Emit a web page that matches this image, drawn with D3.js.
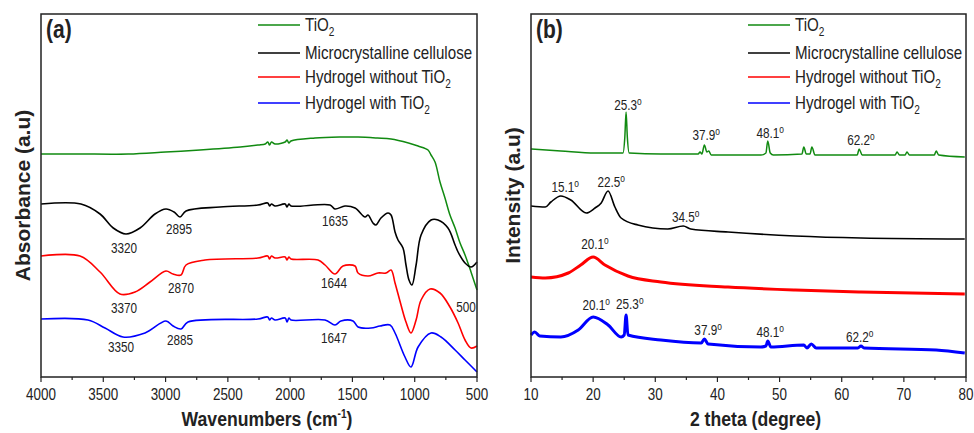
<!DOCTYPE html>
<html>
<head>
<meta charset="utf-8">
<script src="https://cdn.jsdelivr.net/npm/d3@7"></script>
<style>
  body { margin: 0; background: #fff; }
  svg text { font-family: "Liberation Sans", Arial, sans-serif; fill: #222; }
</style>
</head>
<body>
<svg id="chart" width="974" height="433"></svg>
<script>
// series names + colours, shared by both panels
var seriesNames = ['TiO', 'Microcrystalline cellulose', 'Hydrogel without TiO', 'Hydrogel with TiO'];
var seriesSub = ['2', '', '2', '2'];
var seriesColors = ['#118a11', '#000000', '#ff0000', '#0000ff'];

// (a) FTIR : [wavenumber, absorbance a.u. (stacked)]
var ftirTiO2 = [[4000,223],[3700,223],[3300,223],[3000,225],[2724,227],[2400,230],[2258,232],[2200,233],[2180,235],[2165,232],[2150,235],[2120,233],[2040,235],[2025,237],[2010,234],[1993,236],[1800,239],[1600,240],[1455,240],[1300,239],[1190,238],[1050,234],[973,231],[893,227],[869,222],[837,215],[797,195],[757,179],[717,162],[676,149],[636,134],[596,122],[548,105],[500,87]];
var ftirMCC = [[4000,173],[3679,173],[3526,163],[3420,149],[3318,143],[3205,149],[3085,163],[2997,168],[2932,165],[2884,160],[2836,166],[2563,170],[2258,172],[2180,174],[2165,171],[2150,173],[2120,171],[2040,173],[2025,170],[2010,173],[1993,171],[1680,172],[1640,168],[1560,171],[1479,169],[1399,160],[1375,162],[1335,154],[1311,152],[1271,159],[1214,164],[1190,162],[1158,145],[1134,137],[1094,129],[1070,112],[1046,97],[1022,92],[989,112],[949,142],[869,157],[813,157],[733,149],[676,132],[652,125],[596,114],[548,110],[500,115]];
var ftirHydro = [[4000,121],[3687,121],[3526,105],[3366,83],[3245,85],[3125,95],[2997,106],[2940,103],[2876,102],[2836,112],[2683,117],[2258,119],[2180,121],[2165,118],[2150,121],[2120,119],[2040,120],[2025,117],[2010,120],[1993,118],[1776,117],[1720,112],[1640,103],[1576,111],[1479,111],[1455,104],[1375,101],[1295,104],[1230,104],[1190,107],[1158,94],[1110,72],[1070,55],[1030,44],[989,57],[949,77],[877,88],[797,84],[717,70],[652,54],[596,37],[548,29],[500,31]];
var ftirHydroTiO2 = [[4000,58],[3623,57],[3486,49],[3342,40],[3165,44],[2997,56],[2940,51],[2876,48],[2820,55],[2258,58],[2180,60],[2165,57],[2150,59],[2120,57],[2040,59],[2025,55],[2010,59],[1993,57],[1720,57],[1640,52],[1592,56],[1495,56],[1455,50],[1351,49],[1279,51],[1198,52],[1158,44],[1078,20],[1030,10],[973,30],[869,44],[789,40],[676,27],[596,17],[500,5]];

// (b) XRD : [2 theta, intensity a.u. (stacked)]
var xrdTiO2 = [[10,228],[14.8,226],[20.3,224],[24.8,224],[25.1,240],[25.3,265],[25.5,240],[25.8,224],[30.9,223],[36.9,223],[37.2,225],[37.5,223],[37.9,232],[38.3,225],[38.6,226],[39,222],[47,222],[47.8,224],[48.1,236],[48.5,224],[49,222],[53.6,223],[53.9,230],[54.3,223],[54.9,223],[55.2,230],[55.7,222],[62.5,222],[62.8,228],[63.3,222],[68.6,222],[68.9,225],[69.3,222],[70.2,222],[70.5,225],[70.9,222],[74.9,222],[75.2,226],[75.6,222],[79.8,220]];
var xrdMCC = [[10,171],[12.3,170],[13.2,175],[14.8,181],[16.4,177],[18.9,164],[20.3,169],[21.3,174],[22.4,186],[23.5,170],[24.5,159],[27.2,152],[32,148],[34.5,151],[35.7,148],[41.7,145],[52.5,141],[63.1,139],[79.8,138]];
var xrdHydro = [[10,100],[12.3,99],[16,104],[18,112],[20,120],[21.9,112],[25.6,101],[30.9,95],[41.7,90],[52.5,87],[63.1,85],[79.8,83]];
var xrdHydroTiO2 = [[10,42],[10.6,45],[11.4,41],[14.8,40],[17.6,47],[20,60],[22.4,52],[24.5,40],[25,42],[25.3,62],[25.6,42],[30.9,37],[37.4,34],[37.9,38],[38.5,33],[47,30],[47.8,31],[48.1,36],[48.6,30],[53.9,32],[54.4,29],[55.1,33],[55.9,29],[62.6,29],[63.1,31],[63.6,29],[75.2,27],[79.8,24]];

// peak labels : [x value, y value, text]
var ftirPeaks = [[3334,129,'3320'],[2892,148,'2895'],[1640,156,'1635'],[3334,69,'3370'],[2876,89,'2870'],[3358,30,'3350'],[2884,37,'2885'],[1648,94,'1644'],[1648,39,'1647'],[588,70,'500']];
var xrdPeaks = [[25.6,272,'25.3'],[38.2,242,'37.9'],[48.5,244,'48.1'],[63.1,237,'62.2'],[15.5,190,'15.1'],[22.9,195,'22.5'],[34.9,160,'34.5'],[20.3,133,'20.1'],[20.5,72,'20.1'],[25.9,73,'25.3'],[38.5,47,'37.9'],[48.5,45,'48.1'],[62.9,40,'62.2']];

var ftirTicks = [4000,3500,3000,2500,2000,1500,1000,500];
var xrdTicks = [10,20,30,40,50,60,70,80];

var svg = d3.select('#chart');
var narrow = 0.84;  // no narrow font installed, squeeze the regular one

function place(sel, x, y, rot, sx){
	return sel.attr('transform', 'translate(' + x + ',' + y + ')' + (rot ? ' rotate(' + rot + ')' : '') + ' scale(' + (sx || narrow) + ',1)');
}

function drawPanel(opt){
	var x = d3.scaleLinear().domain(opt.xDomain).range([opt.left, opt.right]);
	var y = d3.scaleLinear().domain([0, 363]).range([377, 14]);
	var g = svg.append('g');

	var line = d3.line()
		.x(function(d){ return x(d[0]); })
		.y(function(d){ return y(d[1]); })
		.curve(opt.curve);

	opt.series.forEach(function(s, i){
		g.append('path')
			.attr('d', line(s))
			.attr('fill', 'none')
			.attr('stroke', seriesColors[i])
			.attr('stroke-width', opt.widths[i])
			.attr('stroke-linejoin', 'round');
	});

	// ticks, major + minor, pointing out
	var step = opt.xDomain[0] > opt.xDomain[1] ? -opt.minorStep : opt.minorStep;
	var minor = d3.range(opt.xDomain[0], opt.xDomain[1] + step / 2, step);
	g.append('g').selectAll('line').data(minor).join('line')
		.attr('x1', function(d){ return x(d); })
		.attr('x2', function(d){ return x(d); })
		.attr('y1', 377)
		.attr('y2', function(d, i){ return i % 2 ? 380 : 382; })
		.attr('stroke', '#222').attr('stroke-width', 1.2);

	g.append('g').selectAll('text').data(opt.ticks).join('text')
		.each(function(d){ place(d3.select(this), x(d), 400); })
		.attr('text-anchor', 'middle')
		.style('font-size', '16px')
		.text(function(d){ return d; });

	// frame
	g.append('rect')
		.attr('x', opt.left).attr('y', 14)
		.attr('width', opt.right - opt.left).attr('height', 363)
		.attr('fill', 'none').attr('stroke', '#222').attr('stroke-width', 1.5);

	// peak labels
	opt.peaks.forEach(function(p){
		var t = place(g.append('text'), x(p[0]), y(p[1]))
			.attr('dy', '0.35em')
			.attr('text-anchor', 'middle')
			.style('font-size', '14px')
			.text(p[2]);
		if (opt.degree) t.append('tspan').attr('dy', '-0.45em').style('font-size', '10px').text('o');
	});

	// legend
	seriesNames.forEach(function(name, i){
		var ly = [25, 53, 77, 103][i];
		g.append('line')
			.attr('x1', opt.left + 217).attr('x2', opt.left + 259)
			.attr('y1', ly).attr('y2', ly)
			.attr('stroke', seriesColors[i]).attr('stroke-width', 1.5);
		var t = place(g.append('text'), opt.left + 264, ly)
			.attr('dy', '0.35em')
			.style('font-size', '18px')
			.text(name);
		if (seriesSub[i]) t.append('tspan').attr('dy', '5').style('font-size', '12px').text(seriesSub[i]);
	});

	// panel tag
	place(g.append('text'), opt.left + 5, 38)
		.style('font-size', '25px').style('font-weight', 'bold')
		.text(opt.tag);

	// axis titles
	var xt = place(g.append('text'), (opt.left + opt.right) / 2 + opt.titleShift, 426)
		.attr('text-anchor', 'middle')
		.style('font-size', '21px').style('font-weight', 'bold')
		.text(opt.xTitle);
	if (opt.xSup) {
		xt.append('tspan').attr('dy', '-8').style('font-size', '12px').text(opt.xSup);
		xt.append('tspan').attr('dy', '8').text(')');
	}
	place(g.append('text'), opt.yTitleX, 195.5, -90, 1)
		.attr('text-anchor', 'middle')
		.style('font-size', '21px').style('font-weight', 'bold')
		.text(opt.yTitle);
}

drawPanel({
	left: 41, right: 477, xDomain: [4000, 500], minorStep: 250, ticks: ftirTicks,
	series: [ftirTiO2, ftirMCC, ftirHydro, ftirHydroTiO2], widths: [1.5, 1.6, 1.6, 1.6],
	curve: d3.curveCatmullRom.alpha(0.5), peaks: ftirPeaks, degree: false,
	tag: '(a)', xTitle: 'Wavenumbers (cm', xSup: '-1', titleShift: 8,
	yTitle: 'Absorbance (a.u)', yTitleX: 30
});

drawPanel({
	left: 531, right: 966, xDomain: [10, 80], minorStep: 5, ticks: xrdTicks,
	series: [xrdTiO2, xrdMCC, xrdHydro, xrdHydroTiO2], widths: [1.5, 1.6, 3, 3],
	curve: d3.curveMonotoneX, peaks: xrdPeaks, degree: true,
	tag: '(b)', xTitle: '2 theta (degree)', xSup: null, titleShift: 7,
	yTitle: 'Intensity (a.u)', yTitleX: 520
});
</script>
</body>
</html>
